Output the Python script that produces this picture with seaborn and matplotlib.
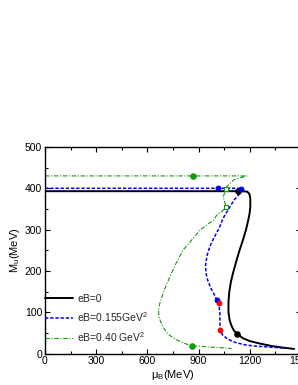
import matplotlib
matplotlib.use("Agg")
import matplotlib.pyplot as plt
import seaborn as sns
import pandas as pd
from matplotlib.ticker import MultipleLocator

sns.set_theme(style="ticks")
plt.rcParams['font.family'] = ['Liberation Sans', 'DejaVu Sans']
plt.rcParams['mathtext.fontset'] = 'custom'
plt.rcParams['mathtext.rm'] = 'Liberation Sans'
plt.rcParams['mathtext.it'] = 'Liberation Sans'

# eB = 0
mu_b0 = [0, 1150, 1185, 1198, 1203, 1203, 1199, 1191, 1178, 1160, 1140, 1122, 1105, 1090,
         1080, 1075, 1075, 1082, 1095, 1108, 1127, 1160, 1200, 1260, 1330, 1400, 1460]
m_b0 = [393, 393, 392, 386, 375, 355, 340, 323, 300, 275, 250, 225, 200, 175,
        150, 125, 100, 80, 65, 55, 47, 37, 30, 24, 18, 14, 11]
# eB = 0.155 GeV^2
mu_b1 = [0, 1150, 1155, 1148, 1130, 1113, 1090, 1074, 1055, 1038, 1022, 1000, 980, 965,
         950, 941, 943, 953, 972, 995, 1012, 1021, 1025, 1025, 1026, 1040, 1070, 1113,
         1172, 1230, 1300, 1370, 1400]
m_b1 = [400, 400, 397, 390, 382, 374, 360, 348, 336, 322, 305, 288, 272, 258,
        238, 215, 195, 178, 158, 140, 125, 110, 95, 75, 57, 45, 35, 27,
        21, 18, 16, 14, 13]
# eB = 0.40 GeV^2
mu_b2 = [0, 1182, 1140, 1104, 1065, 1045, 1050, 1055, 1059, 1040, 1006, 987, 950, 908,
         870, 840, 810, 770, 732, 700, 675, 664, 670, 690, 720, 771, 820, 862, 950,
         1030, 1094]
m_b2 = [430, 430, 425, 420, 404, 380, 370, 364, 354, 345, 335, 323, 312, 299,
        280, 265, 251, 220, 186, 155, 125, 105, 85, 65, 47, 33, 24, 19, 16,
        14, 12]

labels = ["eB=0", "eB=0.155GeV$^2$", "eB=0.40 GeV$^2$"]

# special points
dots_black_mu = [1133, 1127]
dots_black_m = [393, 47]
dots_blue_mu = [1016, 1006, 1150]
dots_blue_m = [400, 130, 398]
dots_red_mu = [1020, 1025]
dots_red_m = [123, 57]
dots_green_mu = [868, 862]
dots_green_m = [430, 19]
sq_green_mu = [1061, 1061]
sq_green_m = [398, 354]

fig = plt.figure(figsize=(2.98, 3.85), dpi=100)
ax = fig.add_axes([45/298, 31.5/385, 256/298, 206.5/385])
ax.set_facecolor('white')

sns.lineplot(x=mu_b0, y=m_b0, sort=False, estimator=None, color='black', lw=1.4,
             ax=ax, label=labels[0])
sns.lineplot(x=mu_b1, y=m_b1, sort=False, estimator=None, color='#0000ee', lw=1.1,
             ax=ax, label=labels[1], dashes=(2.2, 1.2))
sns.lineplot(x=mu_b2, y=m_b2, sort=False, estimator=None, color='#119911', lw=0.8,
             ax=ax, label=labels[2])
ax.lines[2].set_dashes((4, 1.5, 1, 1.5))

ax.scatter(dots_black_mu, dots_black_m, s=14, color='black', zorder=5)
ax.scatter(dots_blue_mu, dots_blue_m, s=10, color='#0000ee', zorder=5)
ax.scatter(dots_red_mu, dots_red_m, s=10, color='red', zorder=5)
ax.scatter(dots_green_mu, dots_green_m, s=14, color='#119911', zorder=5)
ax.scatter(sq_green_mu, sq_green_m, s=12, marker='s', facecolors='white',
           edgecolors='#119911', linewidths=0.8, zorder=5)

ax.set_xlim(0, 1500)
ax.set_ylim(0, 500)
ax.xaxis.set_major_locator(MultipleLocator(300))
ax.xaxis.set_minor_locator(MultipleLocator(150))
ax.yaxis.set_major_locator(MultipleLocator(100))
ax.yaxis.set_minor_locator(MultipleLocator(50))
ax.tick_params(which='both', direction='in', top=True, right=True, labelsize=7.5,
               colors='black', pad=2)
ax.tick_params(which='major', length=3.5, width=0.8)
ax.tick_params(which='minor', length=2, width=0.8)
for s in ax.spines.values():
    s.set_color('black')
    s.set_linewidth(1.0)

ax.set_xlabel("μ$_B$(MeV)", fontsize=8, labelpad=1, color='black')
ax.set_ylabel("M$_u$(MeV)", fontsize=8, labelpad=2, color='black')

leg = ax.legend(loc='upper left', bbox_to_anchor=(0.0, 0.29), frameon=False,
                fontsize=7.5, borderpad=0, borderaxespad=0, handlelength=2.7,
                handletextpad=0.4, labelspacing=0.6)

fig.savefig("out.png", dpi=100, facecolor='white')
